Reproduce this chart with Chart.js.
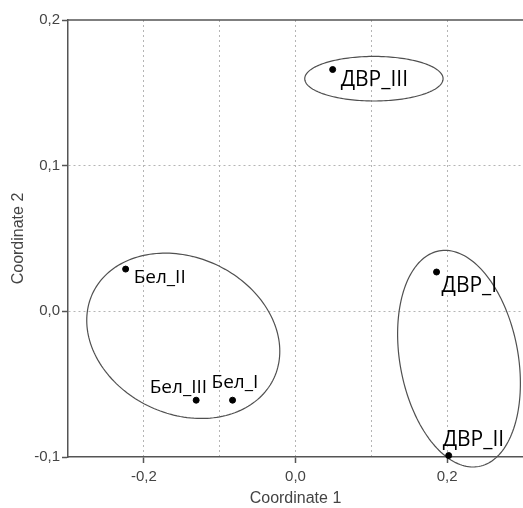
<!DOCTYPE html>
<html>
<head>
<meta charset="utf-8">
<script src="https://cdn.jsdelivr.net/npm/chart.js@4.4.1/dist/chart.umd.min.js"></script>
<style>
    html, body { margin: 0; padding: 0; background: #ffffff; }
    #wrap { width: 523px; height: 508px; }
</style>
</head>
<body>
<div id="wrap"><canvas id="pcoa" width="523" height="508"></canvas></div>
<script>
// Point names and coordinates
const pointLabels = ['Бел_I', 'Бел_II', 'Бел_III', 'ДВР_I', 'ДВР_II', 'ДВР_III'];
const coord1 = [-0.083, -0.224, -0.131, 0.186, 0.202, 0.049];
const coord2 = [-0.061, 0.029, -0.061, 0.027, -0.099, 0.166];

// Tick labels shown on the axes
const xTickValues = [-0.2, 0.0, 0.2];
const yTickValues = [-0.1, 0.0, 0.1, 0.2];

// Group outlines, in data units: centre plus two conjugate half-axes
const outlines = [
    { cx: -0.148, cy: -0.0168, ux: 0.1198, uy: -0.0288, vx: -0.0430, vy: -0.0489 },
    { cx: 0.2156, cy: -0.0325, ux: 0.0262, uy: -0.0740, vx: -0.0766, vy: -0.0074 },
    { cx: 0.1034, cy: 0.1597, ux: 0.0912, uy: 0, vx: 0, vy: 0.0153 }
];

// Where each point label sits relative to its dot (px)
const labelLayout = [
    { dx: -21, dy: -12, align: 'left', size: 19 },
    { dx: 8, dy: 14, align: 'left', size: 19 },
    { dx: 11, dy: -7, align: 'right', size: 19 },
    { dx: 5, dy: 20, align: 'left', size: 21 },
    { dx: -6, dy: -10, align: 'left', size: 21 },
    { dx: 8, dy: 16, align: 'left', size: 21 }
];

const axisColor = '#555555';
const gridColor = '#b5b5b5';
const textColor = '#444444';

function isShown(list, v) {
    return list.some(t => Math.abs(t - v) < 1e-6);
}

function fmt(v) {
    return v.toFixed(1).replace('.', ',');
}

const points = coord1.map((x, i) => ({ x: x, y: coord2[i] }));

// Ellipses round the groups
const outlinePlugin = {
    id: 'outlines',
    beforeDatasetsDraw(chart) {
        const ctx = chart.ctx;
        const xs = chart.scales.x;
        const ys = chart.scales.y;
        ctx.save();
        ctx.strokeStyle = '#505050';
        ctx.lineWidth = 1.2;
        outlines.forEach(o => {
            ctx.beginPath();
            for (let k = 0; k <= 180; k++) {
                const t = k / 180 * Math.PI * 2;
                const px = xs.getPixelForValue(o.cx + Math.cos(t) * o.ux + Math.sin(t) * o.vx);
                const py = ys.getPixelForValue(o.cy + Math.cos(t) * o.uy + Math.sin(t) * o.vy);
                if (k === 0) ctx.moveTo(px, py); else ctx.lineTo(px, py);
            }
            ctx.closePath();
            ctx.stroke();
        });
        ctx.restore();
    }
};

// Point names and the top frame line
const labelPlugin = {
    id: 'pointNames',
    afterDatasetsDraw(chart) {
        const ctx = chart.ctx;
        const meta = chart.getDatasetMeta(0);
        const area = chart.chartArea;
        ctx.save();
        ctx.strokeStyle = axisColor;
        ctx.lineWidth = 1.5;
        ctx.beginPath();
        ctx.moveTo(area.left, area.top);
        ctx.lineTo(area.right, area.top);
        ctx.stroke();

        ctx.fillStyle = '#000000';
        ctx.textBaseline = 'alphabetic';
        meta.data.forEach((el, i) => {
            const lay = labelLayout[i];
            ctx.font = lay.size + 'px "Open Sans", sans-serif';
            ctx.textAlign = lay.align;
            ctx.fillText(pointLabels[i], el.x + lay.dx, el.y + lay.dy);
        });
        ctx.restore();
    }
};

new Chart(document.getElementById('pcoa'), {
    type: 'scatter',
    data: {
        datasets: [{
            label: 'PCoA',
            data: points,
            backgroundColor: '#000000',
            borderColor: '#000000',
            pointRadius: 3,
            pointHoverRadius: 3,
            clip: false
        }]
    },
    options: {
        responsive: false,
        animation: false,
        devicePixelRatio: 1,
        layout: { autoPadding: false, padding: { top: 20, right: 0, bottom: 0, left: 0 } },
        plugins: {
            legend: { display: false },
            tooltip: { enabled: false }
        },
        scales: {
            x: {
                type: 'linear',
                min: -0.3,
                max: 0.3,
                afterFit: s => { s.height = 51; s.paddingLeft = 0; s.paddingRight = 0; },
                ticks: {
                    stepSize: 0.1,
                    autoSkip: false,
                    maxRotation: 0,
                    padding: 5,
                    color: textColor,
                    font: { family: 'Arial, "Liberation Sans", sans-serif', size: 15 },
                    callback: v => isShown(xTickValues, v) ? fmt(v) : ''
                },
                grid: {
                    lineWidth: 1,
                    color: c => (c.tick && (Math.abs(c.tick.value + 0.3) < 1e-6 || Math.abs(c.tick.value - 0.3) < 1e-6)) ? 'rgba(0,0,0,0)' : gridColor,
                    tickLength: 6,
                    tickWidth: 1.5,
                    tickBorderDash: [],
                    tickColor: c => (c.tick && isShown(xTickValues, c.tick.value)) ? axisColor : 'rgba(0,0,0,0)'
                },
                border: { display: true, color: axisColor, width: 1.5, dash: [2, 3] },
                title: {
                    display: true,
                    text: 'Coordinate 1',
                    color: textColor,
                    font: { family: 'Arial, "Liberation Sans", sans-serif', size: 16 },
                    padding: { top: 0, bottom: 0 }
                }
            },
            y: {
                type: 'linear',
                min: -0.1,
                max: 0.2,
                afterFit: s => { s.width = 68; s.paddingTop = 0; s.paddingBottom = 0; },
                ticks: {
                    stepSize: 0.1,
                    autoSkip: false,
                    padding: 2,
                    color: textColor,
                    font: { family: 'Arial, "Liberation Sans", sans-serif', size: 15 },
                    callback: v => isShown(yTickValues, v) ? fmt(v) : ''
                },
                grid: {
                    lineWidth: 1,
                    color: c => (c.tick && (Math.abs(c.tick.value + 0.1) < 1e-6 || Math.abs(c.tick.value - 0.2) < 1e-6)) ? 'rgba(0,0,0,0)' : gridColor,
                    tickLength: 6,
                    tickWidth: 1.5,
                    tickBorderDash: [],
                    tickColor: c => (c.tick && isShown(yTickValues, c.tick.value)) ? axisColor : 'rgba(0,0,0,0)'
                },
                border: { display: true, color: axisColor, width: 1.5, dash: [2, 3] },
                title: {
                    display: true,
                    text: 'Coordinate 2',
                    color: textColor,
                    font: { family: 'Arial, "Liberation Sans", sans-serif', size: 16 },
                    padding: { top: 9, bottom: 0 }
                }
            }
        }
    },
    plugins: [outlinePlugin, labelPlugin]
});
</script>
</body>
</html>
